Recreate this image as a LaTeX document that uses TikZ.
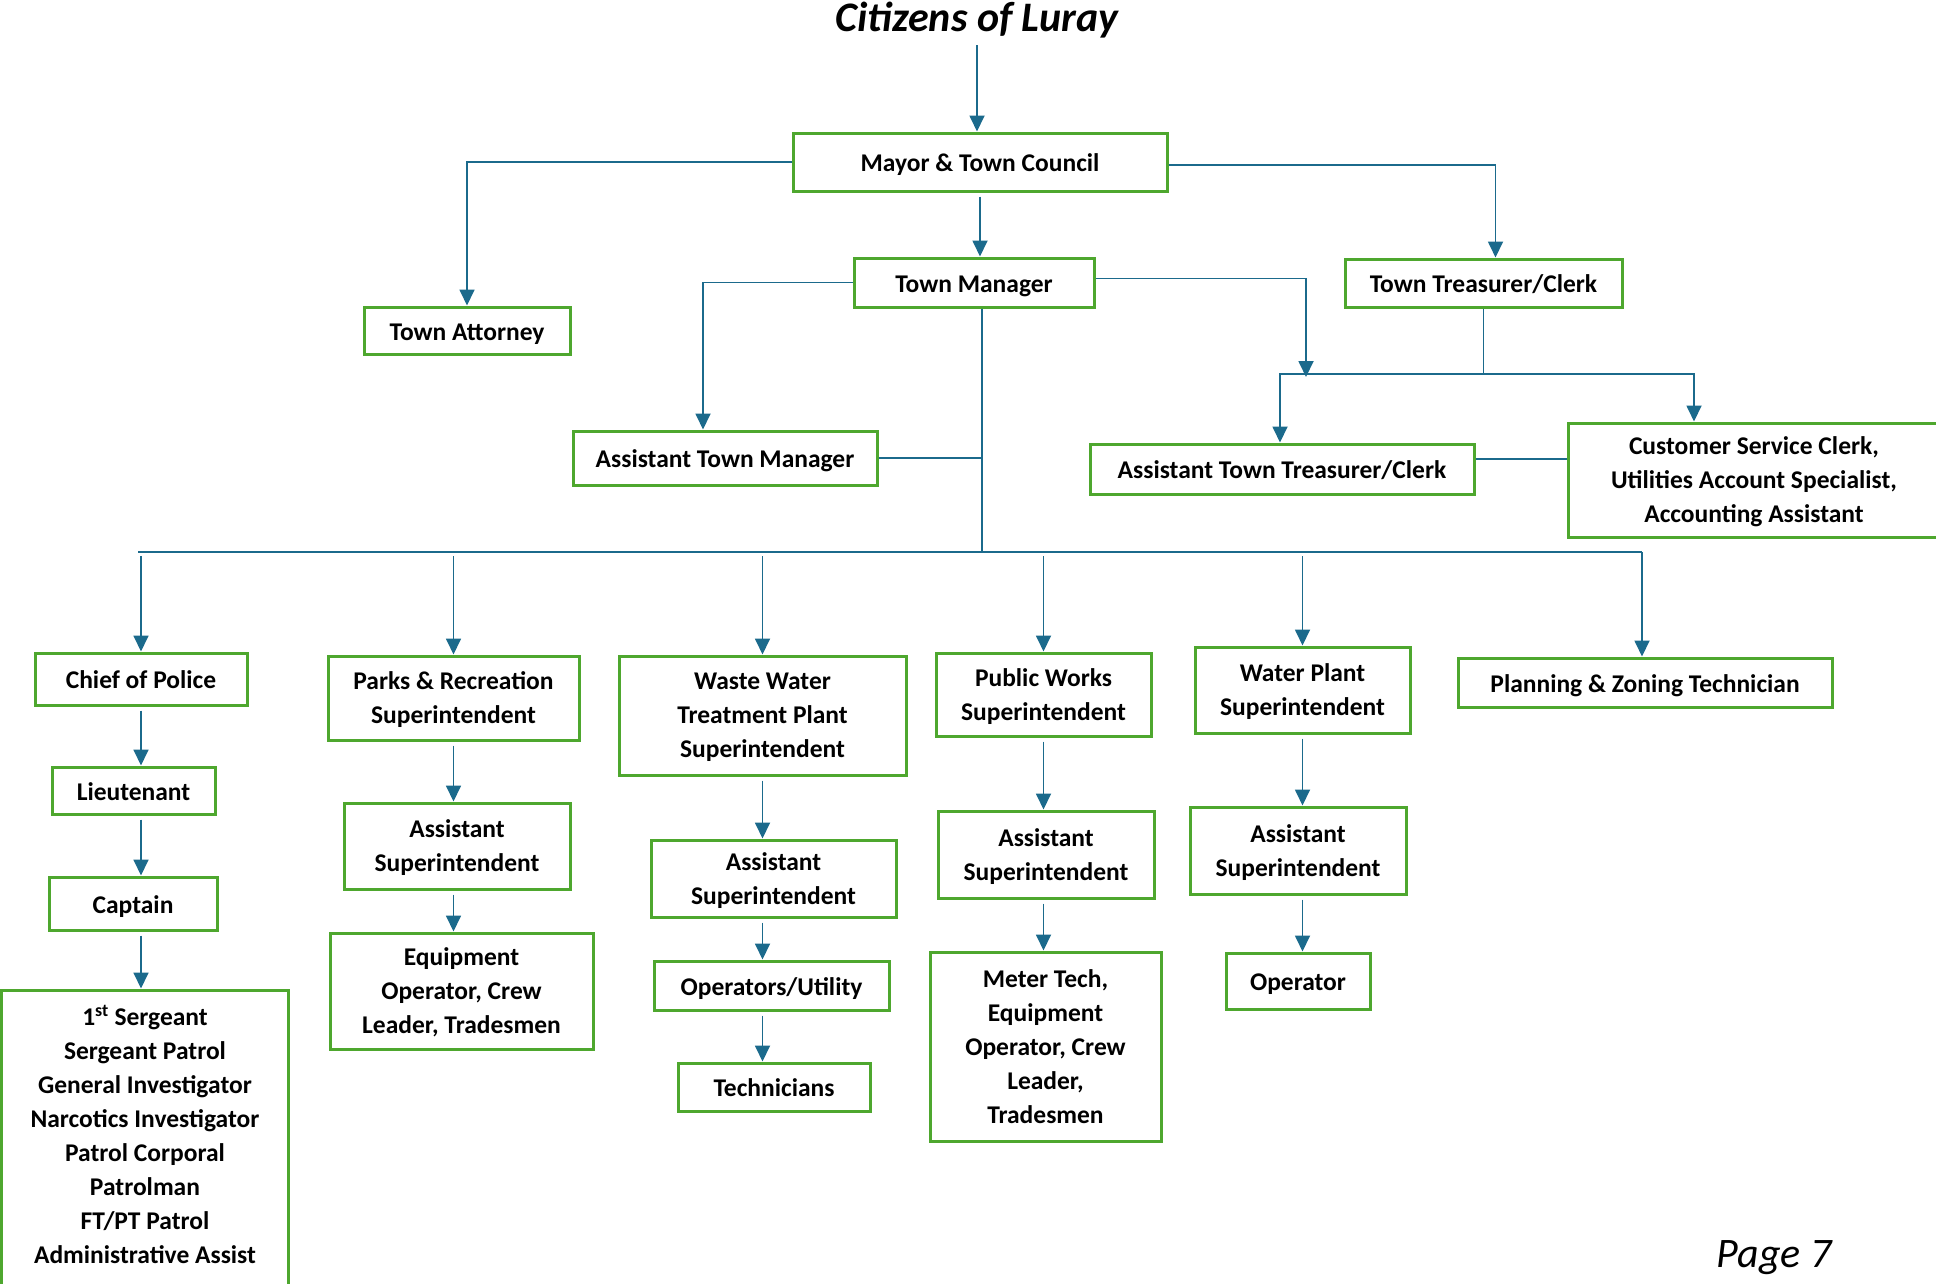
\documentclass[tikz,border=0pt]{standalone}
\usepackage{fontspec}
\setmainfont{Carlito}
\usetikzlibrary{arrows.meta,positioning}
\definecolor{postgreen}{HTML}{4EA72E}
\definecolor{relblue}{HTML}{1B6A8C}

\begin{document}
\begin{tikzpicture}[
    x=1pt, y=-1pt,
    % Posts
    post/.style={rectangle, draw=postgreen, line width=3pt, fill=white, align=center, inner sep=0pt,
        font=\fontsize{25.5}{34}\selectfont\bfseries,
        execute at begin node={\rule{0pt}{27pt}}, execute at end node={\rule[-7.6pt]{0pt}{0pt}}},
    multi/.style={text depth=-2.4pt},
    % Reporting lines
    rel/.style={-{Triangle[length=16pt, width=15pt]}, line width=1.8pt, draw=relblue},
    tie/.style={line width=1.8pt, draw=relblue},
    gap/.style={shorten <=4pt}
]
\useasboundingbox (0,0) rectangle (1936,1283);

% Title and page number
\node[font=\fontsize{42}{50}\selectfont\bfseries\itshape, anchor=base] (title) at (977,31) {Citizens of Luray};
\node[font=\fontsize{42}{50}\selectfont\itshape, anchor=base] (page) at (1774,1267) {Page 7};

% Top level
\node[post, minimum width=374pt, minimum height=58pt] (mayor) at (980,162) {Mayor \& Town Council};
\node[post, minimum width=240pt, minimum height=49pt] (tm) at (974,282.5) {Town Manager};
\node[post, minimum width=277pt, minimum height=48pt] (treas) at (1483.5,283) {Town Treasurer/Clerk};
\node[post, minimum width=206pt, minimum height=47pt] (atty) at (467,330.5) {Town Attorney};
\node[post, minimum width=304pt, minimum height=54pt] (atm) at (725,458) {Assistant Town Manager};
\node[post, minimum width=384pt, minimum height=50pt] (aclerk) at (1282,469) {Assistant Town Treasurer/Clerk};
\node[post, multi, minimum width=372pt, minimum height=114pt, text depth=-12.4pt] (cust) at (1754,480) {Customer Service Clerk,\\Utilities Account Specialist,\\Accounting Assistant};

% Police
\node[post, minimum width=212pt, minimum height=52pt] (chief) at (141,679) {Chief of Police};
\node[post, minimum width=163pt, minimum height=47pt] (lt) at (133.5,790.5) {Lieutenant};
\node[post, minimum width=168pt, minimum height=53pt] (capt) at (133,903.5) {Captain};
\node[post, minimum width=287pt, minimum height=300pt, text depth=11pt] (sgt) at (145,1140) {1\textsuperscript{st} Sergeant\\Sergeant Patrol\\General Investigator\\Narcotics Investigator\\Patrol Corporal\\Patrolman\\FT/PT Patrol\\Administrative Assist};

% Parks
\node[post, multi, minimum width=251pt, minimum height=84pt] (parks) at (453.5,698) {Parks \& Recreation\\Superintendent};
\node[post, multi, minimum width=226pt, minimum height=86pt] (passt) at (457,846) {Assistant\\Superintendent};
\node[post, multi, minimum width=263pt, minimum height=116pt] (pequip) at (461.5,991) {Equipment\\Operator, Crew\\Leader, Tradesmen};

% Waste water
\node[post, multi, minimum width=287pt, minimum height=119pt] (ww) at (762.5,715.5) {Waste Water\\Treatment Plant\\Superintendent};
\node[post, multi, minimum width=245pt, minimum height=77pt] (wasst) at (773.5,878.5) {Assistant\\Superintendent};
\node[post, minimum width=235pt, minimum height=49pt] (wops) at (771.5,985.5) {Operators/Utility};
\node[post, minimum width=192pt, minimum height=48pt] (wtech) at (774,1087) {Technicians};

% Public works
\node[post, multi, minimum width=215pt, minimum height=83pt] (pw) at (1043.5,694.5) {Public Works\\Superintendent};
\node[post, multi, minimum width=216pt, minimum height=87pt] (pwasst) at (1046,854.5) {Assistant\\Superintendent};
\node[post, multi, minimum width=231pt, minimum height=189pt] (meter) at (1045.5,1046.5) {Meter Tech,\\Equipment\\Operator, Crew\\Leader,\\Tradesmen};

% Water plant
\node[post, multi, minimum width=215pt, minimum height=86pt] (wp) at (1302.5,690) {Water Plant\\Superintendent};
\node[post, multi, minimum width=216pt, minimum height=87pt] (wpasst) at (1298,850.5) {Assistant\\Superintendent};
\node[post, minimum width=144pt, minimum height=56pt] (wpop) at (1298,981) {Operator};

% Planning
\node[post, minimum width=374pt, minimum height=49pt] (plan) at (1645,682.5) {Planning \& Zoning Technician};

% Upper reporting lines
\draw[rel, gap] (title.south) -- (title.south |- mayor.north);
\draw[rel] (mayor.west) -| (atty.north);
\draw[rel] ([yshift=-3pt]mayor.east) -| ([xshift=12pt]treas.north);
\draw[rel, gap] (mayor.south) -- (mayor.south |- tm.north);
\draw[rel] (tm.west) -| ([xshift=-22pt]atm.north);

% Treasurer branch
\coordinate (tbus) at (1486,374);
\coordinate (tdrop) at (1306,377);
\draw[rel] ([yshift=4pt]tm.east) -| (tdrop);
\draw[tie] (treas.south) -- (treas.south |- tbus);
\draw[rel] (tbus) -| ([xshift=-2pt]aclerk.north);
\draw[rel] (tbus) -| ([xshift=-60pt]cust.north);
\draw[tie] ([yshift=10pt]aclerk.east) -- ([yshift=10pt]aclerk.east -| cust.west);

% Department bus
\coordinate (bus) at (982,552);
\draw[tie] ([xshift=8pt]tm.south) -- ([xshift=8pt]tm.south |- bus);
\draw[tie] (atm.east) -- (atm.east -| bus);
\draw[tie] ([xshift=-3pt]chief.north |- bus) -- ([xshift=-3pt]plan.north |- bus);
\foreach \n in {chief,parks,ww,pw,wp}
    \draw[rel, gap] (\n.north |- bus) -- (\n.north);
\draw[rel] ([xshift=-3pt]plan.north |- bus) -- ([xshift=-3pt]plan.north);

% Department columns
\foreach \a/\b/\c in {chief/lt/chief, lt/capt/chief, capt/sgt/chief,
                      parks/passt/parks, passt/pequip/parks,
                      ww/wasst/ww, wasst/wops/ww, wops/wtech/ww,
                      pw/pwasst/pw, pwasst/meter/pw,
                      wp/wpasst/wp, wpasst/wpop/wp}
    \draw[rel, gap] (\a.south -| \c) -- (\b.north -| \c);

\end{tikzpicture}
\end{document}
